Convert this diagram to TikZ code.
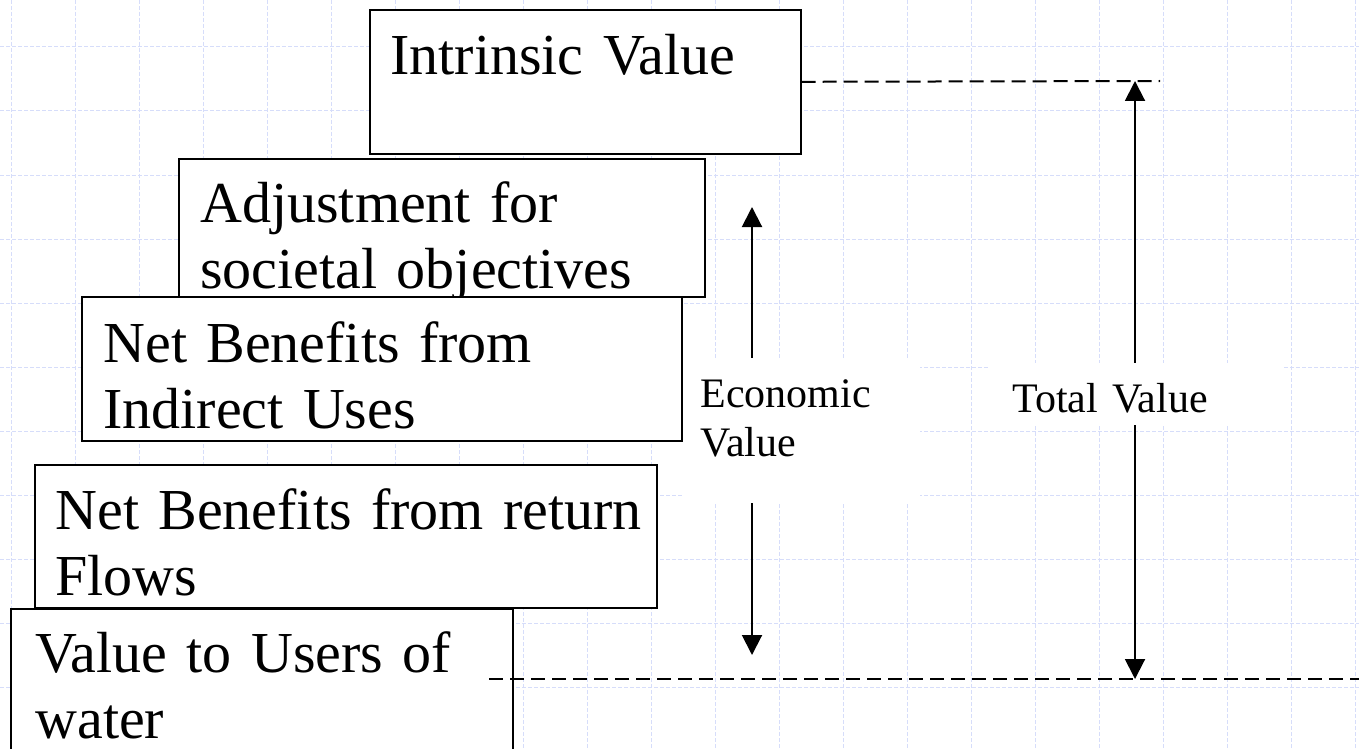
\documentclass[tikz,border=0pt]{standalone}
\usepackage{fontspec}
\setmainfont[WordSpace=0.75]{Liberation Serif}
\usepackage{tikz}
\usetikzlibrary{arrows.meta}

\definecolor{gridblue}{RGB}{214,221,250}

\tikzset{
  gridline/.style={gridblue, line width=0.5pt, dash pattern=on 2pt off 1pt},
  valbox/.style={draw, line width=0.8pt, fill=white, anchor=north west, inner sep=0pt},
  boxtext/.style={anchor=base west, inner sep=0pt, text width=320pt, align=left,
    font=\fontsize{29}{33}\selectfont},
  labeltext/.style={anchor=base west, inner sep=0pt, text width=110pt, align=left,
    font=\fontsize{21}{24.5}\selectfont},
  patch/.style={fill=white, inner sep=0pt, anchor=north west},
  levelline/.style={line width=1pt, dash pattern=on 7pt off 3.5pt},
  span/.style={line width=1pt, {Triangle[length=10pt,width=10pt]}-{Triangle[length=10pt,width=10pt]}},
}

\begin{document}
\begin{tikzpicture}[x=0.5pt, y=-0.5pt]
\clip (0,0) rectangle (1359,749);
\fill[white] (0,0) rectangle (1359,749);

% background grid
\foreach \k in {0,...,21}
  \draw[gridline] ({11+64*\k},0) -- ({11+64*\k},749);
\foreach \k in {0,...,11}
  \draw[gridline] (0,{47+64*\k}) -- (1359,{47+64*\k});

% stacked value boxes
\node[valbox, minimum width=215.5pt, minimum height=72pt] (intrinsic) at (369,9) {};
\node[boxtext] (intrinsic-t) at ([shift={(21,66)}]intrinsic.north west) {Intrinsic Value};

\node[valbox, minimum width=263pt, minimum height=69pt] (adjust) at (178,158) {};
\node[boxtext] (adjust-t) at ([shift={(22,64)}]adjust.north west) {Adjustment for\\societal objectives};

\node[valbox, minimum width=300pt, minimum height=72pt] (indirect) at (81,296) {};
\node[boxtext] (indirect-t) at ([shift={(22,66)}]indirect.north west) {Net Benefits from\\Indirect Uses};

\node[valbox, minimum width=311pt, minimum height=71.5pt] (returnfl) at (34,464) {};
\node[boxtext] (returnfl-t) at ([shift={(21,65)}]returnfl.north west) {Net Benefits from return\\Flows};

\node[valbox, minimum width=251pt, minimum height=90pt] (users) at (10,608) {};
\node[boxtext] (users-t) at ([shift={(25,64)}]users.north west) {Value to Users of\\water};

% levels
\coordinate (top-end) at (1160,81);
\coordinate (base-l) at (489,679);
\coordinate (base-r) at (1359,679);
\draw[levelline] (intrinsic.east) -- (top-end);
\draw[levelline] (base-l) -- (base-r);

% spans
\coordinate (econ-top) at (752,207);
\coordinate (econ-bot) at (752,655);
\coordinate (total-top) at (1135,81);
\coordinate (total-bot) at (1135,679);
\draw[span] (econ-bot) -- (econ-top);
\draw[span] (total-bot) -- (total-top);

\node[patch, minimum width=118.5pt, minimum height=72.5pt] (econ-bg) at (683,358) {};
\node[labeltext] (econ) at (700,407) {Economic\\Value};
\node[patch, minimum width=146.5pt, minimum height=31pt] (total-bg) at (990,363) {};
\node[labeltext] (total) at (1012,412) {Total Value};
\end{tikzpicture}
\end{document}
